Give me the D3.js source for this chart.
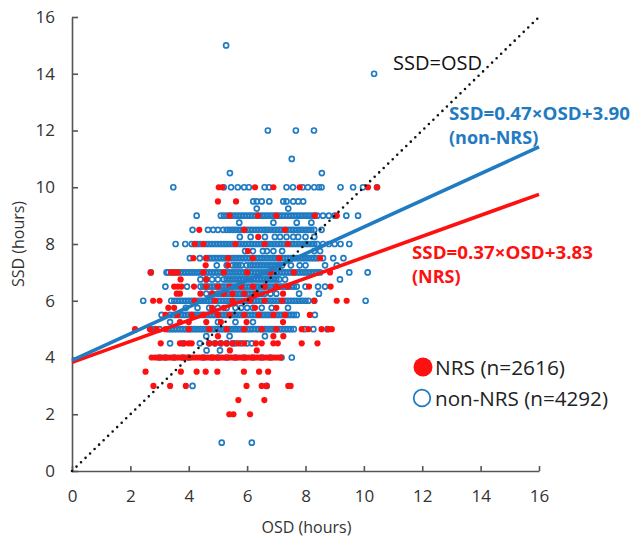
<!DOCTYPE html>
<html>
<head>
<meta charset="utf-8">
<script src="https://cdn.jsdelivr.net/npm/d3@7/dist/d3.min.js"></script>
<style>
  html, body { margin: 0; padding: 0; background: #fff; }
  svg { display: block; }
  text { font-family: "Open Sans", "Noto Sans", sans-serif; }
</style>
</head>
<body>
<svg id="chart" width="633" height="538"></svg>
<script>
// ---------------- DATA ----------------
const xTicks = [0, 2, 4, 6, 8, 10, 12, 14, 16];
const yTicks = [0, 2, 4, 6, 8, 10, 12, 14, 16];
const xLabel = "OSD (hours)";
const yLabel = "SSD (hours)";

// non-NRS (open blue circles): [SSD, [OSD values]]
const nonNRS = [
  [15, [5.28]],
  [14, [10.35]],
  [12, [6.71, 7.67, 8.29]],
  [11, [7.53]],
  [10.5, [5.41, 8.56]],
  [10, [3.47, 5.2, 5.45, 5.68, 5.9, 6.06, 6.6, 6.75, 7.35, 7.57, 7.9, 8.08, 8.3, 8.46, 8.55, 9.2, 9.63, 9.97, 10.45]],
  [9.5, [6.21, 6.33, 6.5, 6.76, 7.24, 7.35, 7.58, 7.75, 7.92]],
  [9.25, [6.33, 7.41]],
  [9, [4.27, 5.1, 5.2, 5.3, 5.4, 5.5, 5.6, 5.7, 5.8, 5.9, 6.0, 6.1, 6.2, 6.3, 6.4, 6.5, 6.6, 6.7, 6.8, 6.9, 7.0, 7.1, 7.2, 7.3, 7.4, 7.5, 7.6, 7.7, 7.8, 7.9, 8.0, 8.1, 8.2, 8.3, 8.4, 8.6, 8.8, 9.0, 9.4, 9.8]],
  [8.75, [5.73, 6.9, 7.7, 8.2]],
  [8.5, [4.13, 4.66, 4.84, 5.0, 5.18, 5.3, 5.4, 5.5, 5.6, 5.7, 5.8, 5.9, 6.0, 6.1, 6.2, 6.3, 6.4, 6.5, 6.6, 6.7, 6.8, 6.9, 7.0, 7.1, 7.2, 7.3, 7.4, 7.5, 7.6, 7.7, 7.8, 7.9, 8.0, 8.1, 8.2, 8.3, 8.55]],
  [8.25, [5.75, 6.12, 6.61, 6.95, 7.13, 7.35, 7.58, 7.75, 8.0, 8.3]],
  [8, [3.55, 3.88, 4.1, 4.2, 4.3, 4.4, 4.5, 4.6, 4.7, 4.8, 4.9, 5.0, 5.1, 5.2, 5.3, 5.4, 5.5, 5.6, 5.7, 5.8, 5.9, 6.0, 6.1, 6.2, 6.3, 6.4, 6.5, 6.6, 6.7, 6.8, 6.9, 7.0, 7.1, 7.2, 7.3, 7.4, 7.5, 7.6, 7.7, 7.8, 7.9, 8.0, 8.1, 8.2, 8.3, 8.4, 8.6, 8.8, 9.0, 9.2, 9.5]],
  [7.75, [5.93, 6.2, 6.54, 6.68, 6.9, 7.2, 8.3, 8.5]],
  [7.5, [4.04, 4.38, 4.6, 4.7, 4.8, 4.9, 5.0, 5.1, 5.2, 5.3, 5.4, 5.5, 5.6, 5.7, 5.8, 5.9, 6.0, 6.1, 6.2, 6.3, 6.4, 6.5, 6.6, 6.7, 6.8, 6.9, 7.0, 7.1, 7.2, 7.3, 7.4, 7.5, 7.6, 7.7, 7.8, 7.9, 8.0, 8.1, 8.2, 8.3, 8.4, 8.6, 8.95, 9.3]],
  [7.25, [4.96, 5.3, 5.5, 5.6, 5.7, 5.8, 5.98, 6.1, 6.2, 6.3, 6.4, 6.5, 6.6, 6.7, 6.8, 6.9, 7.0, 7.1, 7.2, 7.5, 7.8, 8.0, 8.67, 9.07]],
  [7, [2.7, 3.24, 3.3, 3.4, 3.5, 3.6, 3.7, 3.8, 3.9, 4.0, 4.1, 4.2, 4.3, 4.4, 4.5, 4.6, 4.7, 4.8, 4.9, 5.0, 5.1, 5.2, 5.3, 5.4, 5.5, 5.6, 5.7, 5.8, 5.9, 6.0, 6.1, 6.2, 6.3, 6.4, 6.5, 6.6, 6.7, 6.8, 6.9, 7.0, 7.1, 7.2, 7.3, 7.4, 7.5, 7.6, 7.7, 7.8, 7.9, 8.0, 8.1, 8.2, 8.3, 8.4, 8.5, 9.5, 10.13]],
  [6.75, [4.4, 4.6, 4.8, 5.0, 5.2, 5.3, 5.4, 5.5, 5.6, 5.7, 5.8, 5.9, 6.0, 6.1, 6.2, 6.3, 6.4, 6.5, 6.6, 6.7, 6.8, 6.9, 7.0, 7.1, 7.3, 9.18]],
  [6.5, [3.2, 3.94, 4.4, 4.5, 4.6, 4.7, 4.8, 4.9, 5.0, 5.1, 5.2, 5.3, 5.4, 5.5, 5.6, 5.7, 5.8, 5.9, 6.0, 6.1, 6.2, 6.3, 6.4, 6.5, 6.6, 6.7, 6.8, 6.9, 7.0, 7.1, 7.2, 7.3, 7.4, 7.5, 7.6, 7.7, 8.0, 8.43, 8.67]],
  [6.25, [4.6, 4.8, 5.0, 5.1, 5.2, 5.3, 5.4, 5.5, 5.6, 5.7, 5.8, 5.9, 6.0, 6.1, 6.2, 6.3, 6.4, 6.5, 6.6, 6.8, 7.0, 7.78, 8.46]],
  [6, [2.44, 3.4, 3.5, 3.6, 3.7, 3.8, 3.9, 4.0, 4.1, 4.2, 4.3, 4.4, 4.5, 4.6, 4.7, 4.8, 4.9, 5.0, 5.1, 5.2, 5.3, 5.4, 5.5, 5.6, 5.7, 5.8, 5.9, 6.0, 6.1, 6.2, 6.3, 6.4, 6.5, 6.6, 6.7, 6.8, 6.9, 7.0, 7.1, 7.2, 7.3, 7.4, 7.5, 7.6, 7.7, 7.8, 7.9, 8.0, 8.1, 8.3, 10.06]],
  [5.75, [3.9, 4.3, 4.7, 5.0, 5.3, 5.6, 5.8, 6.0, 6.2, 6.5, 6.84, 7.4]],
  [5.5, [3.07, 3.36, 3.5, 3.6, 3.7, 3.8, 3.9, 4.0, 4.1, 4.2, 4.3, 4.4, 4.5, 4.6, 4.7, 4.8, 4.9, 5.0, 5.1, 5.2, 5.3, 5.4, 5.5, 5.6, 5.7, 5.8, 5.9, 6.0, 6.1, 6.2, 6.3, 6.4, 6.5, 6.6, 6.7, 6.8, 6.9, 7.0, 7.1, 7.2, 7.3, 7.4, 7.5, 7.6, 7.7, 8.32]],
  [5.25, [3.36, 5.0, 5.6, 6.2]],
  [5, [2.7, 2.84, 3.0, 3.3, 3.4, 3.5, 3.6, 3.7, 3.8, 3.9, 4.0, 4.1, 4.2, 4.3, 4.4, 4.5, 4.6, 4.7, 4.8, 4.9, 5.0, 5.1, 5.2, 5.3, 5.4, 5.5, 5.6, 5.7, 5.8, 5.9, 6.0, 6.1, 6.2, 6.3, 6.4, 6.5, 6.6, 6.7, 6.8, 6.9, 7.0, 7.1, 7.2, 7.3, 7.4, 7.5, 7.6, 7.97, 8.27, 8.75]],
  [4.75, [4.6, 5.4, 6.61]],
  [4.5, [3.36, 3.8, 4.38, 4.7, 4.9, 5.1, 5.3, 5.5, 5.6, 5.8, 6.0, 6.16]],
  [4.25, [4.61, 5.07]],
  [4, [3.0, 3.2, 3.5, 3.8, 4.0, 4.5, 4.8, 5.0, 5.3, 5.6, 5.9, 6.2, 6.5, 6.8, 7.18, 7.53]],
  [3, [4.13, 6.67]],
  [1, [5.13, 6.16]]
];

// NRS (filled red circles): [SSD, [OSD values]]
const NRS = [
  [10, [5.03, 5.15, 6.27, 6.9, 7.8, 10.14, 10.45]],
  [9.5, [5.0, 5.62]],
  [9, [5.4, 6.37, 7.0, 8.32, 9.07]],
  [8.5, [4.36, 5.9, 7.3]],
  [8.25, [6.38]],
  [8, [4.21, 4.5, 5.6, 6.6, 7.4]],
  [7.75, [6.03]],
  [7.5, [4.16, 4.6, 5.35, 6.2, 7.1, 8.5]],
  [7.25, [4.58, 5.35]],
  [7, [2.7, 3.39, 3.5, 3.62, 4.5, 5.2, 6.0, 6.8, 7.6, 8.84]],
  [6.75, [3.72, 4.6]],
  [6.5, [3.5, 3.63, 3.75, 4.18, 4.6, 5.0, 5.4, 5.8, 6.2, 6.6, 7.0, 7.4, 8.12, 8.86]],
  [6.25, [3.59, 3.7, 4.4, 4.8, 5.2, 5.5, 5.9, 6.3, 7.23]],
  [6, [2.78, 3.0, 4.2, 4.9, 5.5, 6.1, 6.6, 7.2, 8.3, 9.07, 9.41]],
  [5.75, [3.3, 3.5, 4.8, 5.2, 6.27, 7.0]],
  [5.5, [3.2, 3.6, 4.1, 4.5, 5.0, 5.4, 5.9, 6.4, 6.9, 7.3, 8.15]],
  [5.25, [3.7, 4.0, 4.6, 5.1, 5.98, 7.23]],
  [5, [2.16, 2.67, 2.9, 3.2, 4.0, 4.7, 5.3, 5.9, 6.5, 7.0, 7.87, 8.1, 8.55, 8.78, 8.9]],
  [4.75, [5.0, 6.9, 7.24]],
  [4.5, [3.04, 3.7, 3.85, 4.0, 4.1, 4.7, 4.9, 5.1, 5.3, 5.5, 5.7, 5.9, 6.3, 6.5, 6.9, 7.05, 7.87, 8.41]],
  [4.25, [5.41, 6.33]],
  [4, [2.73, 2.85, 2.95, 3.05, 3.15, 3.25, 3.35, 3.45, 3.55, 3.65, 3.75, 3.85, 3.95, 4.05, 4.15, 4.25, 4.35, 4.45, 4.55, 4.65, 4.75, 4.85, 4.95, 5.05, 5.15, 5.25, 5.35, 5.45, 5.55, 5.65, 5.75, 5.85, 5.95, 6.05, 6.15, 6.25, 6.35, 6.45, 6.55, 6.65, 6.75, 6.85, 6.95, 7.05, 7.15]],
  [3.5, [2.52, 3.73, 4.27, 4.58, 4.98, 5.89, 6.41, 6.72]],
  [3, [2.79, 3.36, 3.9, 5.98, 6.5, 6.67, 7.41, 7.49]],
  [2.5, [5.7, 6.59]],
  [2, [5.39, 5.53, 6.1]]
];

// regression lines: [slope, intercept]
const fitNonNRS = [0.47, 3.90];
const fitNRS = [0.37, 3.83];
const lineXRange = [0, 16];

const eqNonNRS = ["SSD=0.47×OSD+3.90", "(non-NRS)"];
const eqNRS = ["SSD=0.37×OSD+3.83", "(NRS)"];
const identityLabel = "SSD=OSD";
const legendLabels = ["NRS (n=2616)", "non-NRS (n=4292)"];

// ---------------- DRAW ----------------
const BLUE = "#1f7bc2";
const RED = "#ff1010";
const svg = d3.select("#chart");

const x = d3.scaleLinear().domain([0, 16]).range([72, 539]);
const y = d3.scaleLinear().domain([0, 16]).range([471, 17]);

const flat = rows => rows.flatMap(([s, xs]) => xs.map(o => ({ osd: o, ssd: s })));

// axes
const axisColor = "#555";
const xAxis = svg.append("g").attr("transform", `translate(0,${y(0)})`)
  .call(d3.axisBottom(x).tickValues(xTicks).tickFormat(d3.format("d"))
    .tickSizeInner(-5).tickSizeOuter(0).tickPadding(19));
const yAxis = svg.append("g").attr("transform", `translate(${x(0)},0)`)
  .call(d3.axisLeft(y).tickValues(yTicks).tickFormat(d3.format("d"))
    .tickSizeInner(-6).tickSizeOuter(0).tickPadding(17));
[xAxis, yAxis].forEach(g => {
  g.select(".domain").attr("stroke", axisColor).attr("stroke-width", 1.6);
  g.selectAll(".tick line").attr("stroke", axisColor).attr("stroke-width", 1.6);
  g.selectAll(".tick text").attr("fill", "#333").style("font-size", "17px")
    .style("font-family", '"Open Sans", sans-serif');
});

// axis labels
svg.append("text").attr("x", (x(0) + x(16)) / 2 + 1).attr("y", 533)
  .attr("text-anchor", "middle").attr("fill", "#333").style("font-size", "16px").text(xLabel);
svg.append("text").attr("transform", `translate(24,${244}) rotate(-90)`)
  .attr("text-anchor", "middle").attr("fill", "#333").style("font-size", "16px").text(yLabel);

// points
svg.append("g").selectAll("circle").data(flat(nonNRS)).join("circle")
  .attr("cx", d => x(d.osd)).attr("cy", d => y(d.ssd)).attr("r", 2.5)
  .attr("fill", "none").attr("stroke", BLUE).attr("stroke-width", 1.7);
svg.append("g").selectAll("circle").data(flat(NRS)).join("circle")
  .attr("cx", d => x(d.osd)).attr("cy", d => y(d.ssd)).attr("r", 3.1)
  .attr("fill", RED);

// regression lines
const fitLine = ([m, b]) => d3.line().x(d => x(d)).y(d => y(m * d + b))(lineXRange);
svg.append("path").attr("d", fitLine(fitNRS)).attr("stroke", RED).attr("stroke-width", 3.6).attr("fill", "none");
svg.append("path").attr("d", fitLine(fitNonNRS)).attr("stroke", BLUE).attr("stroke-width", 3.6).attr("fill", "none");

// identity dotted line
svg.append("path").attr("d", d3.line().x(d => x(d)).y(d => y(d))(lineXRange))
  .attr("stroke", "#111").attr("stroke-width", 2.6).attr("stroke-linecap", "round")
  .attr("stroke-dasharray", "0 6.3").attr("fill", "none");

// annotations
svg.append("text").attr("x", 393).attr("y", 70).attr("fill", "#111")
  .style("font-size", "20px").attr("textLength", 89).attr("lengthAdjust", "spacingAndGlyphs").text(identityLabel);

const eqB = svg.append("g").attr("fill", BLUE).style("font-weight", "bold").style("font-size", "18px");
eqB.append("text").attr("x", 449).attr("y", 120).attr("textLength", 181).attr("lengthAdjust", "spacingAndGlyphs").text(eqNonNRS[0]);
eqB.append("text").attr("x", 449).attr("y", 144).text(eqNonNRS[1]);

const eqR = svg.append("g").attr("fill", RED).style("font-weight", "bold").style("font-size", "18px");
eqR.append("text").attr("x", 412).attr("y", 259).attr("textLength", 181).attr("lengthAdjust", "spacingAndGlyphs").text(eqNRS[0]);
eqR.append("text").attr("x", 412).attr("y", 283).text(eqNRS[1]);

// legend
const lg = svg.append("g");
lg.append("circle").attr("cx", 423).attr("cy", 367).attr("r", 9.5).attr("fill", RED);
lg.append("circle").attr("cx", 422).attr("cy", 398).attr("r", 8.3).attr("fill", "none").attr("stroke", BLUE).attr("stroke-width", 1.8);
lg.append("text").attr("x", 435).attr("y", 375).attr("fill", "#222").style("font-size", "20px")
  .attr("textLength", 130).attr("lengthAdjust", "spacingAndGlyphs").text(legendLabels[0]);
lg.append("text").attr("x", 435).attr("y", 406).attr("fill", "#222").style("font-size", "20px")
  .attr("textLength", 173).attr("lengthAdjust", "spacingAndGlyphs").text(legendLabels[1]);
</script>
</body>
</html>
